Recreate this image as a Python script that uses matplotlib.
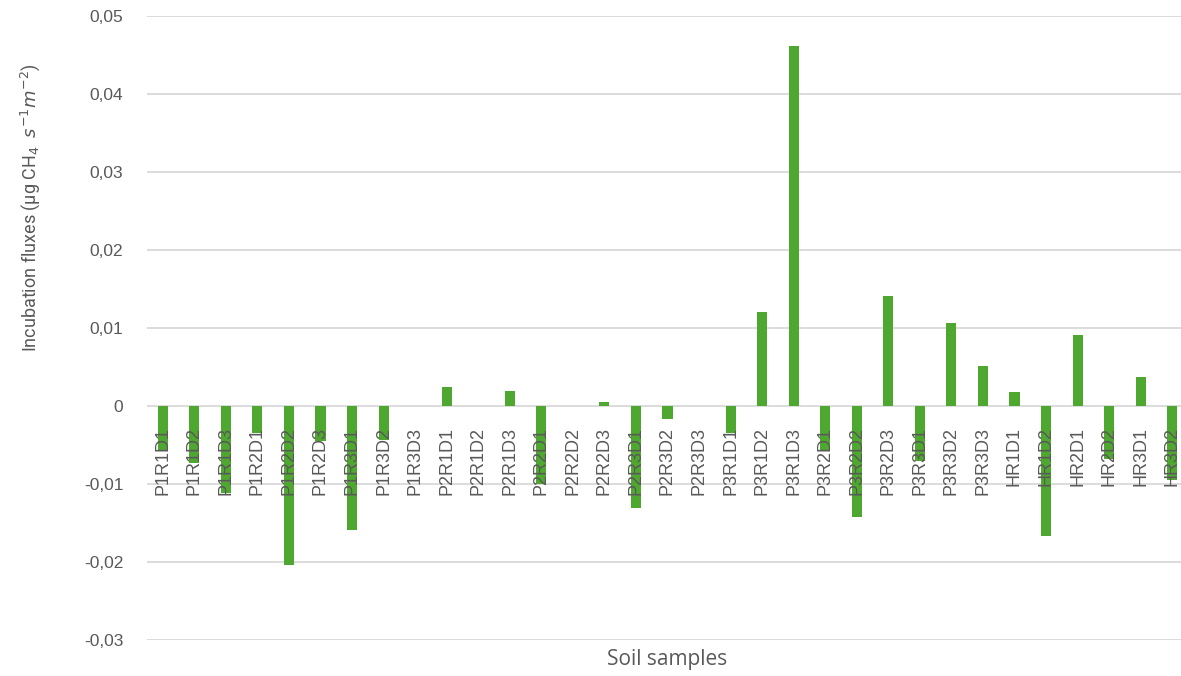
import matplotlib
matplotlib.use("Agg")
import matplotlib.pyplot as plt
import numpy as np

samples = [
    "P1R1D1", "P1R1D2", "P1R1D3", "P1R2D1", "P1R2D2", "P1R2D3",
    "P1R3D1", "P1R3D2", "P1R3D3", "P2R1D1", "P2R1D2", "P2R1D3",
    "P2R2D1", "P2R2D2", "P2R2D3", "P2R3D1", "P2R3D2", "P2R3D3",
    "P3R1D1", "P3R1D2", "P3R1D3", "P3R2D1", "P3R2D2", "P3R2D3",
    "P3R3D1", "P3R3D2", "P3R3D3", "HR1D1", "HR1D2", "HR2D1",
    "HR2D2", "HR3D1", "HR3D2",
]
fluxes = [
    -0.0058, -0.0073, -0.0111, -0.0035, -0.0204, -0.0045,
    -0.0159, -0.0043, 0.0, 0.0024, 0.0, 0.0019,
    -0.0100, 0.0, 0.0005, -0.0131, -0.0017, 0.0,
    -0.0034, 0.0121, 0.0462, -0.0058, -0.0142, 0.0141,
    -0.0071, 0.0106, 0.0051, 0.0018, -0.0167, 0.0091,
    -0.0068, 0.0037, -0.0095,
]
y_ticks = [-0.03, -0.02, -0.01, 0.0, 0.01, 0.02, 0.03, 0.04, 0.05]

W, H = 1181, 676
fig = plt.figure(figsize=(W / 100, H / 100), dpi=100)

left_px, right_px, top_px, bottom_px = 147, 1188, 16, 640
ax = fig.add_axes([left_px / W, 1 - bottom_px / H,
                   (right_px - left_px) / W, (bottom_px - top_px) / H])

text_grey = "#595959"
x = np.arange(len(samples))
ax.bar(x, fluxes, width=0.32, color="#4EA72E", zorder=2)

ax.set_xlim(-0.5, len(samples) - 0.5)
ax.set_ylim(-0.03, 0.05)
ax.set_yticks(y_ticks)
ax.set_yticklabels([("0" if v == 0 else f"{v:.2f}".replace(".", ",")) for v in y_ticks],
                   fontsize=12.5, color=text_grey, family="Liberation Sans")
ax.tick_params(axis="y", length=0, pad=17)
ax.grid(axis="y", color="#D9D9D9", linewidth=1.3, zorder=0)
ax.set_axisbelow(True)
for s in ax.spines.values():
    s.set_visible(False)

ax.set_xticks([])
for xi, name in zip(x, samples):
    ax.annotate(name, xy=(xi, 0), xytext=(0, -15), textcoords="offset points",
                rotation=90, ha="center", va="top", fontsize=13,
                color=text_grey, family="Liberation Sans", zorder=3)

fig.text(667 / W, 1 - 660 / H, "Soil samples", ha="center", va="center",
         fontsize=15, color=text_grey, family="Open Sans")
fig.text(30 / W, 1 - 208 / H,
         r"Incubation fluxes (μg CH$_4$  $s^{-1}m^{-2}$)",
         rotation=90, ha="center", va="center", fontsize=13,
         color=text_grey, family="Roboto")

fig.savefig("out.png", dpi=100)
